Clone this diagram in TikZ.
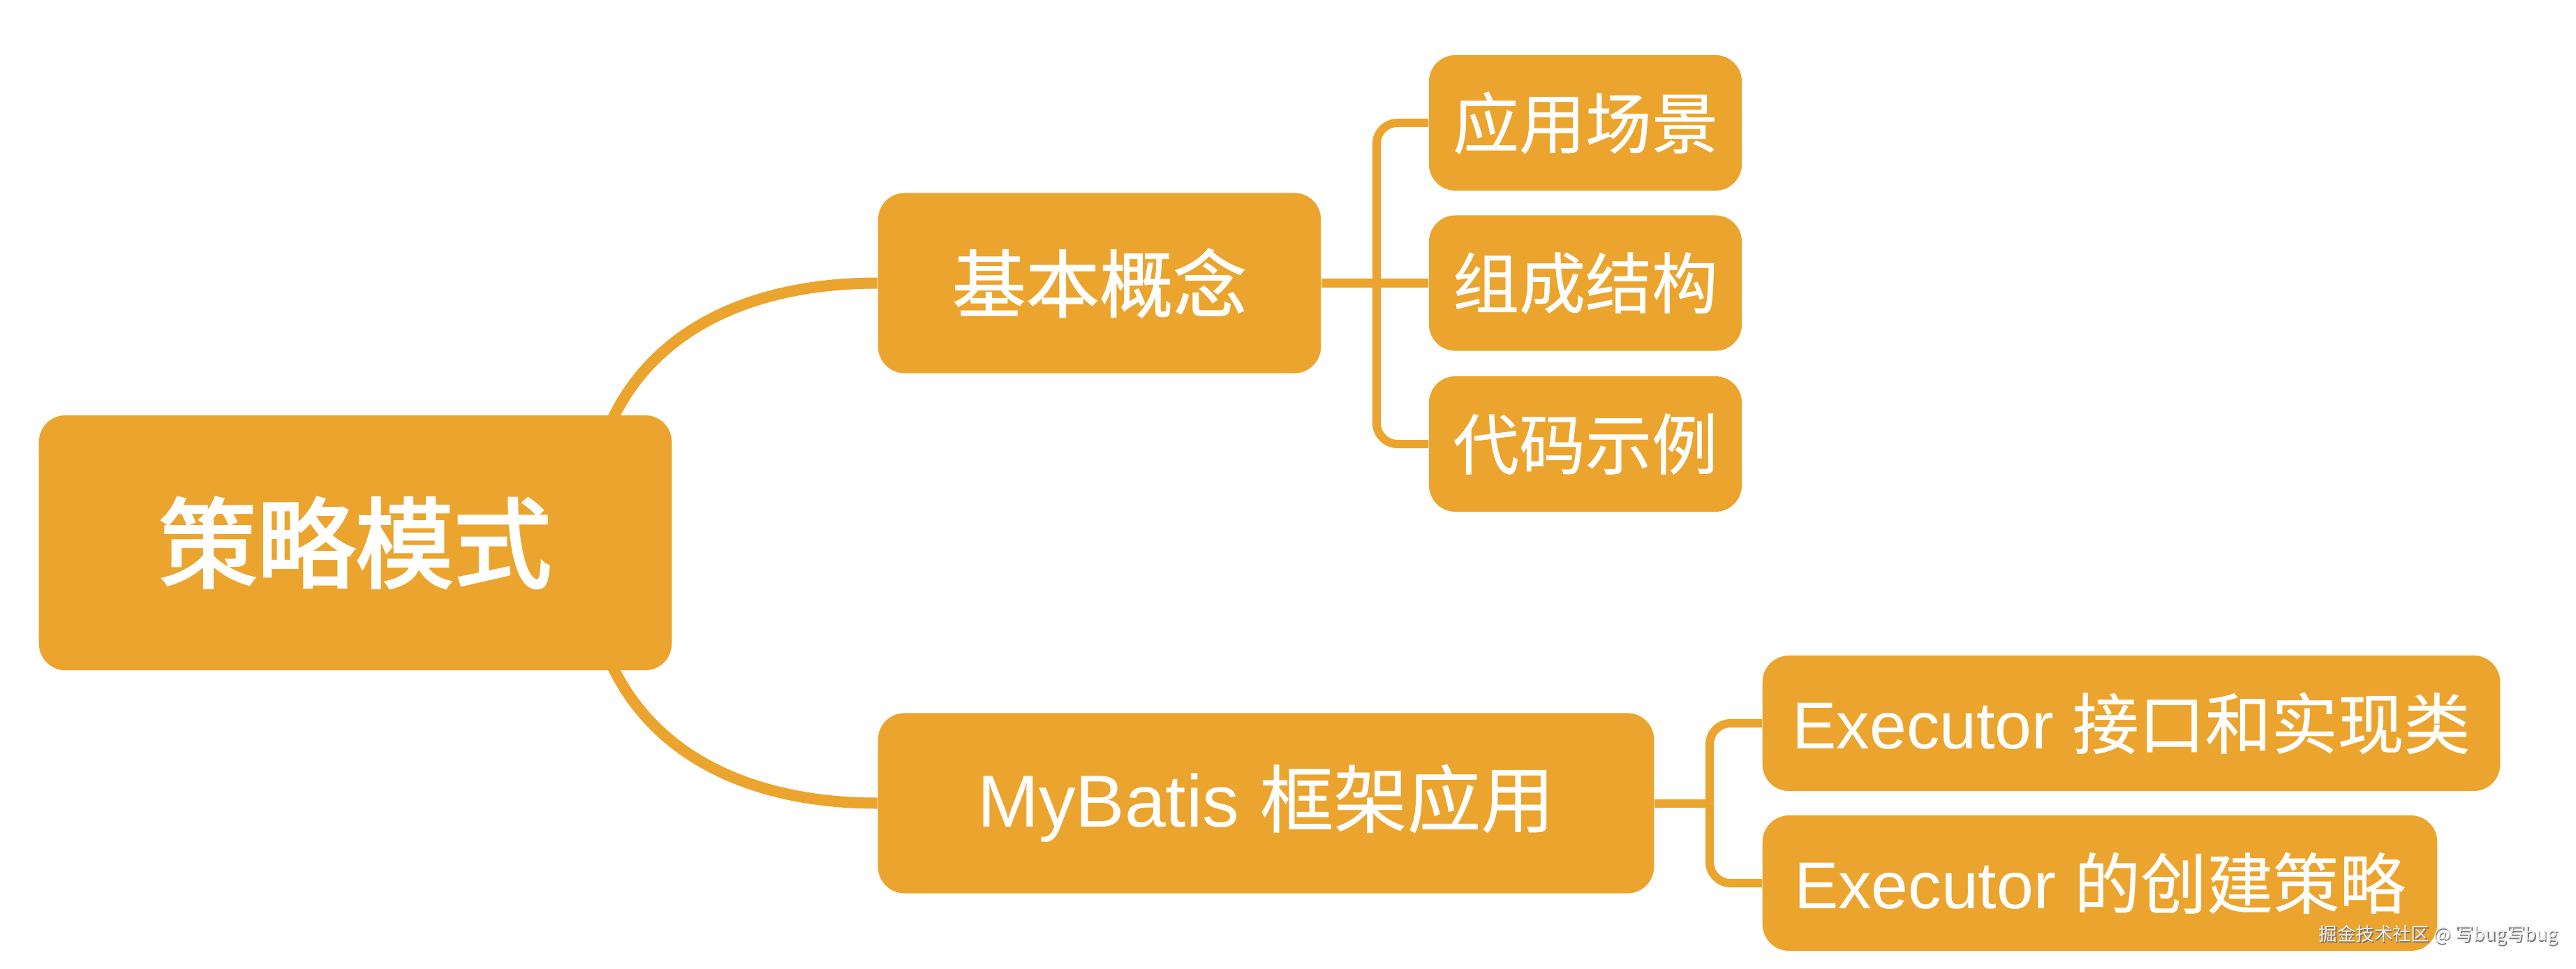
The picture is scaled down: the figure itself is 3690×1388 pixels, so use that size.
\documentclass[tikz,border=0pt]{standalone}
\usepackage{fontspec}
\setmainfont{Liberation Sans}
\newfontfamily\cjk{Noto Sans CJK SC}
\newfontfamily\cjkmed[FakeBold=1.2]{Noto Sans CJK SC}
\newfontfamily\cjkroot[FakeBold=2.6]{Noto Sans CJK SC}
\newfontfamily\cjklight[FakeBold=0.4]{Noto Sans CJK SC}
\usetikzlibrary{calc}
\definecolor{mm}{HTML}{EBA42E}
\pgfdeclarelayer{bg}
\pgfsetlayers{bg,main}
\tikzset{
  box/.style={fill=mm, rounded corners=0.38cm, inner sep=0pt, text=white, align=center},
  rootbox/.style={box, minimum width=9.06cm, minimum height=3.65cm,
    font=\fontsize{40pt}{48pt}\selectfont\cjkroot},
  lvlone/.style={box, minimum height=2.58cm,
    font=\fontsize{30pt}{36pt}\selectfont},
  lvltwo/.style={box, minimum height=1.94cm,
    font=\fontsize{27pt}{32pt}\selectfont},
  branch/.style={draw=mm, line width=0.16cm},
  link/.style={draw=mm, line width=0.12cm, rounded corners=0.3cm},
  wmark/.style={inner sep=0pt, font=\fontsize{7.5pt}{9pt}\selectfont\cjk}
}
\begin{document}
\begin{tikzpicture}[x=0.01cm,y=-0.01cm]
\useasboundingbox (0,0) rectangle (3690,1388);
% nodes
\node[rootbox] (root) at (509,777.5) {策略模式};
\node[lvlone, minimum width=6.34cm] (k1) at (1575,405.5) {\cjkmed 基本概念};
\node[lvlone, minimum width=11.11cm] (k2) at (1813.5,1150.5) {MyBatis {\cjklight 框架应用}};
\node[lvltwo, minimum width=4.48cm] (c1) at (2271,176) {\cjklight 应用场景};
\node[lvltwo, minimum width=4.48cm] (c2) at (2271,405.5) {\cjklight 组成结构};
\node[lvltwo, minimum width=4.48cm] (c3) at (2271,636) {\cjklight 代码示例};
\node[lvltwo, minimum width=10.56cm] (e1) at (3053,1036) {Executor {\cjklight 接口和实现类}};
\node[lvltwo, minimum width=9.66cm] (e2) at (3008,1265) {Executor {\cjklight 的创建策略}};
% watermark
\node[wmark, text=black!55] (wms) at (3494.5,1341.5) {掘金技术社区 @ 写bug写bug};
\node[wmark, text=black!8] (wm) at (3493,1340) {掘金技术社区 @ 写bug写bug};
% connectors
\begin{pgfonlayer}{bg}
\draw[branch] ($(root.north east)+(-105,45)$) -- ($(root.north east)+(-85,5)$)
  .. controls ($(root.north east)+(-22,-125)$) and ($(k1.west)+(-177,0)$) .. (k1.west);
\draw[branch] ($(root.south east)+(-105,-45)$) -- ($(root.south east)+(-85,-5)$)
  .. controls ($(root.south east)+(-22,125)$) and ($(k2.west)+(-177,0)$) .. (k2.west);
\draw[link] (k1.east) -- (c2.west);
\draw[link] ($(k1.east)+(79,0)$) |- (c1.west);
\draw[link] ($(k1.east)+(79,0)$) |- (c3.west);
\draw[link] (k2.east) -- ($(k2.east)+(79,0)$);
\draw[link] ($(k2.east)+(79,0)$) |- (e1.west);
\draw[link] ($(k2.east)+(79,0)$) |- (e2.west);
\end{pgfonlayer}
\end{tikzpicture}
\end{document}
